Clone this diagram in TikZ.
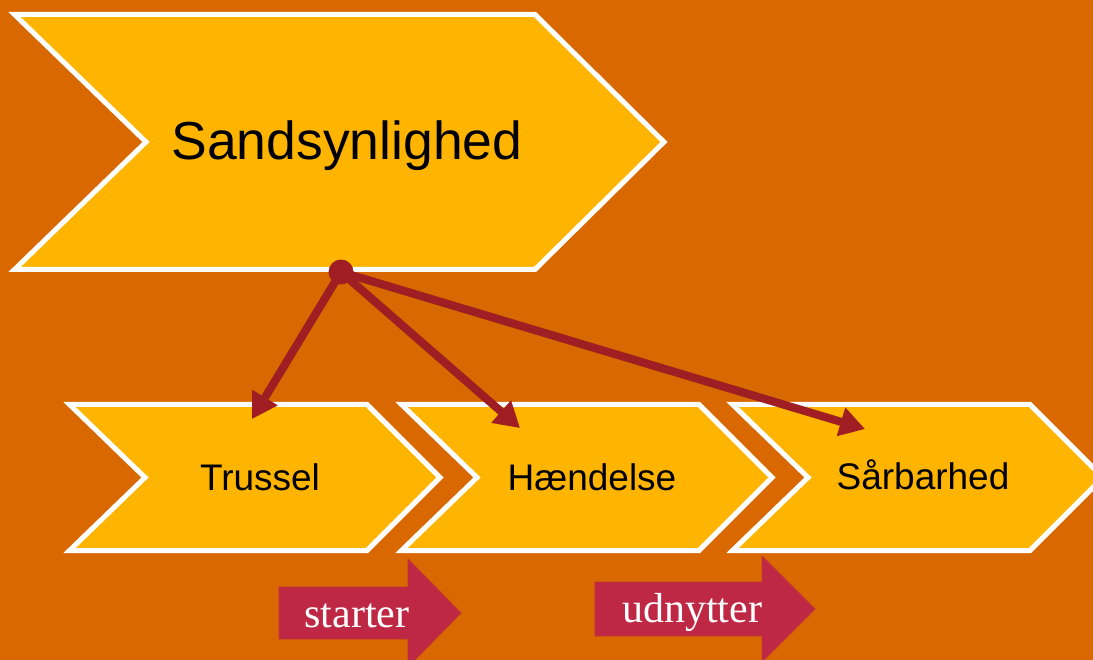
\documentclass[tikz,border=0pt]{standalone}
\usepackage{fontspec}
\setmainfont{Liberation Sans}
\newfontfamily\labelserif{Liberation Serif}
\usetikzlibrary{arrows.meta}
\definecolor{bgorange}{RGB}{217,104,0}
\definecolor{amber}{RGB}{255,181,0}
\definecolor{linkred}{RGB}{160,30,35}
\definecolor{crimson}{RGB}{190,40,68}
\tikzset{
  chevbox/.style={fill=amber,draw=white,line width=5pt,line join=miter},
  chevtext/.style={font=\fontsize{37}{44}\selectfont,text=black,anchor=base,inner sep=0pt},
  bigtext/.style={font=\fontsize{53.5}{62}\selectfont,text=black,anchor=base,inner sep=0pt},
  link/.style={draw=linkred,line width=8pt,-{Triangle[length=25pt,width=28pt]}},
  linkshadow/.style={draw=black,opacity=0.25,line width=8pt,-{Triangle[length=25pt,width=28pt]}},
  blockarrow/.style={fill=crimson,draw=crimson!80!bgorange,line width=0.8pt},
  arrowtext/.style={font=\labelserif\fontsize{42}{50}\selectfont,text=white,anchor=base,inner sep=0pt}
}
\begin{document}
\begin{tikzpicture}[x=1pt,y=-1pt]
\useasboundingbox (0,0) rectangle (1093,660);
\fill[bgorange] (0,0) rectangle (1093,660);
% top chevron
\draw[chevbox] (14.5,14.5) -- (535,14.5) -- (664,142) -- (535,269.5) -- (14.5,269.5) -- (146,142) -- cycle;
\node[bigtext] (sand) at (347,160) {Sandsynlighed};
% bottom chevrons
\foreach \dx/\nm in {0/a,332/b,663/c}{
  \draw[chevbox,shift={(\dx,0)}] (69.5,404.5) -- (367,404.5) -- (440,477.5) -- (367,550.5) -- (69.5,550.5) -- (145,477.5) -- cycle;
}
\node[chevtext] (trussel) at (260,490) {Trussel};
\node[chevtext] (haendelse) at (592,490) {Hændelse};
\node[chevtext] (saarbarhed) at (923,489) {Sårbarhed};
% connectors
\coordinate (hub) at (341,272);
\coordinate (tT) at (252,419);
\coordinate (tH) at (520,428);
\coordinate (tS) at (865,429);
\begin{scope}[shift={(2,5)}]
  \draw[linkshadow] (hub) -- (tT);
  \draw[linkshadow] (hub) -- (tH);
  \draw[linkshadow] (hub) -- (tS);
\end{scope}
\draw[link] (hub) -- (tT);
\draw[link] (hub) -- (tH);
\draw[link] (hub) -- (tS);
\node[circle,fill=linkred,minimum size=25pt,inner sep=0pt] (dot) at (hub) {};
% block arrows
\draw[blockarrow] (279,587) -- (408,587) -- (408,559) -- (461,613) -- (408,667) -- (408,639) -- (279,639) -- cycle;
\draw[blockarrow] (595,582) -- (762,582) -- (762,556) -- (815,609) -- (762,662) -- (762,636) -- (595,636) -- cycle;
\node[arrowtext] (starter) at (357,627) {starter};
\node[arrowtext] (udnytter) at (692,622) {udnytter};
\end{tikzpicture}
\end{document}
